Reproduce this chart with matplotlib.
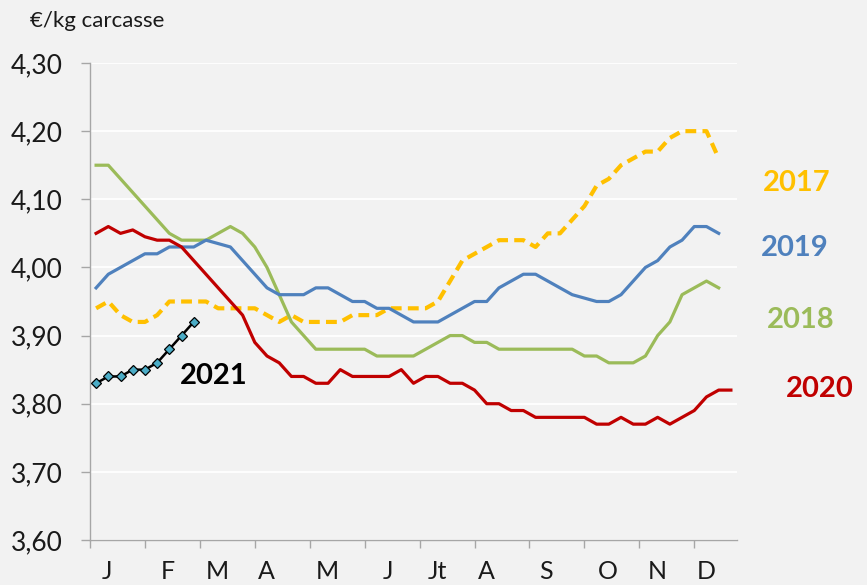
import matplotlib
matplotlib.use("Agg")
import matplotlib.pyplot as plt
import matplotlib.transforms as mtransforms
import numpy as np

# ---------------- data ----------------
months = ["J", "F", "M", "A", "M", "J", "Jt", "A", "S", "O", "N", "D"]
yticks = [3.60, 3.70, 3.80, 3.90, 4.00, 4.10, 4.20, 4.30]

y2017 = [3.94, 3.95, 3.93, 3.92, 3.92, 3.93, 3.95, 3.95, 3.95, 3.95,
         3.94, 3.94, 3.94, 3.94, 3.93, 3.92, 3.93, 3.92, 3.92, 3.92,
         3.92, 3.93, 3.93, 3.93, 3.94, 3.94, 3.94, 3.94, 3.95, 3.98,
         4.01, 4.02, 4.03, 4.04, 4.04, 4.04, 4.03, 4.05, 4.05, 4.07,
         4.09, 4.12, 4.13, 4.15, 4.16, 4.17, 4.17, 4.19, 4.20, 4.20,
         4.20, 4.16]
y2018 = [4.15, 4.15, 4.13, 4.11, 4.09, 4.07, 4.05, 4.04, 4.04, 4.04,
         4.05, 4.06, 4.05, 4.03, 4.00, 3.96, 3.92, 3.90, 3.88, 3.88,
         3.88, 3.88, 3.88, 3.87, 3.87, 3.87, 3.87, 3.88, 3.89, 3.90,
         3.90, 3.89, 3.89, 3.88, 3.88, 3.88, 3.88, 3.88, 3.88, 3.88,
         3.87, 3.87, 3.86, 3.86, 3.86, 3.87, 3.90, 3.92, 3.96, 3.97,
         3.98, 3.97]
y2019 = [3.97, 3.99, 4.00, 4.01, 4.02, 4.02, 4.03, 4.03, 4.03, 4.04,
         4.035, 4.03, 4.01, 3.99, 3.97, 3.96, 3.96, 3.96, 3.97, 3.97,
         3.96, 3.95, 3.95, 3.94, 3.94, 3.93, 3.92, 3.92, 3.92, 3.93,
         3.94, 3.95, 3.95, 3.97, 3.98, 3.99, 3.99, 3.98, 3.97, 3.96,
         3.955, 3.95, 3.95, 3.96, 3.98, 4.00, 4.01, 4.03, 4.04, 4.06,
         4.06, 4.05]
y2020 = [4.05, 4.06, 4.05, 4.055, 4.045, 4.04, 4.04, 4.03, 4.01, 3.99,
         3.97, 3.95, 3.93, 3.89, 3.87, 3.86, 3.84, 3.84, 3.83, 3.83,
         3.85, 3.84, 3.84, 3.84, 3.84, 3.85, 3.83, 3.84, 3.84, 3.83,
         3.83, 3.82, 3.80, 3.80, 3.79, 3.79, 3.78, 3.78, 3.78, 3.78,
         3.78, 3.77, 3.77, 3.78, 3.77, 3.77, 3.78, 3.77, 3.78, 3.79,
         3.81, 3.82, 3.82]
y2021 = [3.83, 3.84, 3.84, 3.85, 3.85, 3.86, 3.88, 3.90, 3.92]

# ---------------- style ----------------
BG = "#F2F2F2"
C2017 = "#FFC000"
C2018 = "#9BBB59"
C2019 = "#4F81BD"
C2020 = "#C00000"
FONT = "Lato"

plt.rcParams["font.family"] = [FONT, "DejaVu Sans"]

fig = plt.figure(figsize=(8.67, 5.85), dpi=100, facecolor=BG)
ax = fig.add_axes([90 / 867, 45 / 585, 647 / 867, 477 / 585], facecolor=BG)

def weeks(vals):
    return np.arange(1, len(vals) + 1)

ax.plot(weeks(y2017), y2017, color=C2017, lw=3.0, ls=(0, (2.6, 1.5)),
        dash_capstyle="butt", zorder=3)
ax.plot(weeks(y2018), y2018, color=C2018, lw=2.3, zorder=3)
ax.plot(weeks(y2019), y2019, color=C2019, lw=2.3, zorder=3)
ax.plot(weeks(y2020), y2020, color=C2020, lw=2.3, zorder=3)
ax.plot(weeks(y2021), y2021, color="black", lw=1.8, marker="D", ms=5,
        mfc="#4BACC6", mec="black", mew=0.9, zorder=4)

ax.set_xlim(0.5, 53.5)
ax.set_ylim(3.60, 4.30)
ax.set_yticks(yticks)
ax.set_yticklabels([f"{v:.2f}".replace(".", ",") for v in yticks],
                   fontsize=19, color="#1A1A1A")
ax.yaxis.grid(True, color="white", lw=1.3, zorder=0)
ax.set_axisbelow(True)

month_ticks = 0.5 + 4.5 * np.arange(len(months))
ax.set_xticks(month_ticks)
ax.set_xticklabels([])
label_weeks = [1.9, 6.9, 10.95, 14.95, 19.95, 24.95, 29.0, 32.95, 37.85, 42.9, 47.0, 50.95]
trans = mtransforms.blended_transform_factory(ax.transData, ax.transAxes)
for m, xw in zip(months, label_weeks):
    ax.text(xw, -0.067, m, transform=trans, ha="center", va="center",
            fontsize=18, color="#1A1A1A")

for s in ["top", "right"]:
    ax.spines[s].set_visible(False)
for s in ["left", "bottom"]:
    ax.spines[s].set_color("#A6A6A6")
    ax.spines[s].set_linewidth(1.0)
ax.tick_params(axis="y", length=6.5, width=1.0, color="#A6A6A6", pad=13)
ax.tick_params(axis="x", length=6, width=1.0, color="#A6A6A6")

fig.text(30 / 867, 1 - 21 / 585, "€/kg carcasse", ha="left", va="center",
         fontsize=16, color="#1A1A1A")

lab_kw = dict(ha="center", va="center", fontsize=21, fontweight="bold",
              clip_on=False)
ax.text(58.4, 4.124, "2017", color=C2017, **lab_kw)
ax.text(58.2, 4.028, "2019", color=C2019, **lab_kw)
ax.text(58.7, 3.923, "2018", color=C2018, **lab_kw)
ax.text(60.3, 3.822, "2020", color=C2020, **lab_kw)
ax.text(10.66, 3.841, "2021", color="black", **lab_kw)

fig.savefig("out.png", dpi=100, facecolor=BG)
